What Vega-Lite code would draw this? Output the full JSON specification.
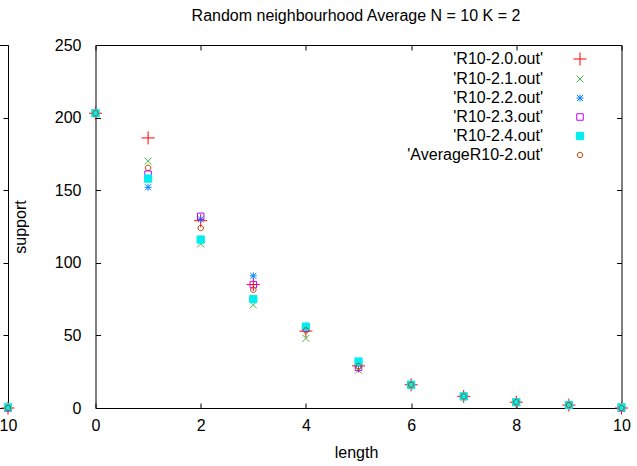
{
  "$schema": "https://vega.github.io/schema/vega-lite/v6.json",
  "autosize": {"type": "pad"},
  "padding": {"left": -93, "top": 7, "right": 0, "bottom": 0},
  "background": "white",
  "config": {
    "font": "Liberation Sans",
    "view": {"stroke": "black", "strokeWidth": 1},
    "axis": {
      "domain": false, "grid": false, "ticks": true, "tickSize": -5, "tickColor": "black", "tickWidth": 1,
      "labelFont": "Liberation Sans", "labelFontSize": 16, "labelColor": "black", "labelFlush": false, "labelOverlap": false,
      "titleFont": "Liberation Sans", "titleFontSize": 16, "titleFontWeight": "normal", "titleColor": "black"
    }
  },
  "datasets": {
    "pts": [
      {"series": "'R10-2.0.out'", "length": 0, "support": 203},
      {"series": "'R10-2.0.out'", "length": 1, "support": 186},
      {"series": "'R10-2.0.out'", "length": 2, "support": 129},
      {"series": "'R10-2.0.out'", "length": 3, "support": 85},
      {"series": "'R10-2.0.out'", "length": 4, "support": 53},
      {"series": "'R10-2.0.out'", "length": 5, "support": 29},
      {"series": "'R10-2.0.out'", "length": 6, "support": 16},
      {"series": "'R10-2.0.out'", "length": 7, "support": 8},
      {"series": "'R10-2.0.out'", "length": 8, "support": 4},
      {"series": "'R10-2.0.out'", "length": 9, "support": 2},
      {"series": "'R10-2.0.out'", "length": 10, "support": 0},
      {"series": "'R10-2.1.out'", "length": 0, "support": 203},
      {"series": "'R10-2.1.out'", "length": 1, "support": 170},
      {"series": "'R10-2.1.out'", "length": 2, "support": 113},
      {"series": "'R10-2.1.out'", "length": 3, "support": 71},
      {"series": "'R10-2.1.out'", "length": 4, "support": 48},
      {"series": "'R10-2.1.out'", "length": 5, "support": 26},
      {"series": "'R10-2.1.out'", "length": 6, "support": 16},
      {"series": "'R10-2.1.out'", "length": 7, "support": 8},
      {"series": "'R10-2.1.out'", "length": 8, "support": 4},
      {"series": "'R10-2.1.out'", "length": 9, "support": 2},
      {"series": "'R10-2.1.out'", "length": 10, "support": 0},
      {"series": "'R10-2.2.out'", "length": 0, "support": 203},
      {"series": "'R10-2.2.out'", "length": 1, "support": 152},
      {"series": "'R10-2.2.out'", "length": 2, "support": 130},
      {"series": "'R10-2.2.out'", "length": 3, "support": 91},
      {"series": "'R10-2.2.out'", "length": 4, "support": 56.5},
      {"series": "'R10-2.2.out'", "length": 5, "support": 30},
      {"series": "'R10-2.2.out'", "length": 6, "support": 16},
      {"series": "'R10-2.2.out'", "length": 7, "support": 8},
      {"series": "'R10-2.2.out'", "length": 8, "support": 4},
      {"series": "'R10-2.2.out'", "length": 9, "support": 2},
      {"series": "'R10-2.2.out'", "length": 10, "support": 0},
      {"series": "'R10-2.3.out'", "length": 0, "support": 203},
      {"series": "'R10-2.3.out'", "length": 1, "support": 161},
      {"series": "'R10-2.3.out'", "length": 2, "support": 132},
      {"series": "'R10-2.3.out'", "length": 3, "support": 85},
      {"series": "'R10-2.3.out'", "length": 4, "support": 55},
      {"series": "'R10-2.3.out'", "length": 5, "support": 28},
      {"series": "'R10-2.3.out'", "length": 6, "support": 16},
      {"series": "'R10-2.3.out'", "length": 7, "support": 8},
      {"series": "'R10-2.3.out'", "length": 8, "support": 4},
      {"series": "'R10-2.3.out'", "length": 9, "support": 2},
      {"series": "'R10-2.3.out'", "length": 10, "support": 0},
      {"series": "'R10-2.4.out'", "length": 0, "support": 203},
      {"series": "'R10-2.4.out'", "length": 1, "support": 158},
      {"series": "'R10-2.4.out'", "length": 2, "support": 116},
      {"series": "'R10-2.4.out'", "length": 3, "support": 75},
      {"series": "'R10-2.4.out'", "length": 4, "support": 56},
      {"series": "'R10-2.4.out'", "length": 5, "support": 32},
      {"series": "'R10-2.4.out'", "length": 6, "support": 16},
      {"series": "'R10-2.4.out'", "length": 7, "support": 8},
      {"series": "'R10-2.4.out'", "length": 8, "support": 4},
      {"series": "'R10-2.4.out'", "length": 9, "support": 2},
      {"series": "'R10-2.4.out'", "length": 10, "support": 0.5},
      {"series": "'AverageR10-2.out'", "length": 0, "support": 203},
      {"series": "'AverageR10-2.out'", "length": 1, "support": 165.4},
      {"series": "'AverageR10-2.out'", "length": 2, "support": 124},
      {"series": "'AverageR10-2.out'", "length": 3, "support": 81.4},
      {"series": "'AverageR10-2.out'", "length": 4, "support": 53.4},
      {"series": "'AverageR10-2.out'", "length": 5, "support": 28.8},
      {"series": "'AverageR10-2.out'", "length": 6, "support": 16},
      {"series": "'AverageR10-2.out'", "length": 7, "support": 8},
      {"series": "'AverageR10-2.out'", "length": 8, "support": 4},
      {"series": "'AverageR10-2.out'", "length": 9, "support": 2},
      {"series": "'AverageR10-2.out'", "length": 10, "support": 0}
    ]
  },
  "data": {"name": "pts"},
  "bounds": "flush",
  "spacing": 87.5,
  "resolve": {"scale": {"shape": "independent", "stroke": "independent", "fill": "independent", "x": "independent", "y": "independent"}},
  "hconcat": [
    {
      "width": 100,
      "height": 363,
      "transform": [{"filter": "datum.length == 10"}],
      "layer": [
        {
          "mark": {"type": "point", "filled": false, "opacity": 1, "strokeWidth": 1, "size": 169},
          "encoding": {
            "x": {"field": "length", "type": "quantitative", "scale": {"domain": [0, 10], "nice": false, "zero": false},
                  "axis": {"orient": "bottom", "values": [10], "title": null, "labelPadding": 14.5}},
            "y": {"field": "support", "type": "quantitative", "scale": {"domain": [0, 250], "nice": false}, "axis": null},
            "shape": {"field": "series", "type": "nominal", "legend": null,
              "scale": {"domain": ["'R10-2.0.out'", "'R10-2.1.out'", "'R10-2.2.out'", "'R10-2.3.out'", "'R10-2.4.out'", "'AverageR10-2.out'"],
                "range": ["M-1,0L1,0M0,-1L0,1", "M-0.54,-0.54L0.54,0.54M-0.54,0.54L0.54,-0.54", "M-0.54,0L0.54,0M0,-0.54L0,0.54M-0.46,-0.46L0.46,0.46M-0.46,0.46L0.46,-0.46", "M-0.5,-0.5L0.5,-0.5L0.5,0.5L-0.5,0.5Z", "M-0.56,-0.56L0.56,-0.56L0.56,0.56L-0.56,0.56Z", "M0.42,0A0.42,0.42 0 1,1 -0.42,0A0.42,0.42 0 1,1 0.42,0Z"]}},
            "stroke": {"field": "series", "type": "nominal", "legend": null,
              "scale": {"domain": ["'R10-2.0.out'", "'R10-2.1.out'", "'R10-2.2.out'", "'R10-2.3.out'", "'R10-2.4.out'", "'AverageR10-2.out'"],
                "range": ["#ff0000", "#40c040", "#0080ff", "#c000ff", "#00eeee", "#c04000"]}},
            "fill": {"field": "series", "type": "nominal", "legend": null,
              "scale": {"domain": ["'R10-2.0.out'", "'R10-2.1.out'", "'R10-2.2.out'", "'R10-2.3.out'", "'R10-2.4.out'", "'AverageR10-2.out'"],
                "range": ["transparent", "transparent", "transparent", "transparent", "#00eeee", "transparent"]}}
          }
        },
        {
          "mark": {"type": "point", "opacity": 0},
          "encoding": {
            "x": {"field": "length", "type": "quantitative", "scale": {"domain": [0, 10], "nice": false, "zero": false}, "axis": null},
            "y": {"field": "support", "type": "quantitative", "scale": {"domain": [0, 250], "nice": false},
                  "axis": {"orient": "right", "labels": false, "title": null, "values": [0, 50, 100, 150, 200, 250]}}
          }
        }
      ],
      "resolve": {"axis": {"x": "independent", "y": "independent"}}
    },
    {
      "width": 526,
      "height": 363,
      "title": {"text": "Random neighbourhood Average N = 10 K = 2", "anchor": "middle", "fontSize": 16, "fontWeight": "normal", "font": "Liberation Sans", "color": "black", "baseline": "alphabetic", "offset": 0.5, "dx": -2.5},
      "layer": [
        {
          "mark": {"type": "point", "filled": false, "opacity": 1, "strokeWidth": 1, "size": 169},
          "encoding": {
            "x": {"field": "length", "type": "quantitative", "scale": {"domain": [0, 10], "nice": false, "zero": false},
                  "axis": {"orient": "bottom", "values": [0, 2, 4, 6, 8, 10], "title": "length", "labelPadding": 14.5, "titleY": 49, "titleX": 260.5, "titleAlign": "center", "titleBaseline": "alphabetic"}},
            "y": {"field": "support", "type": "quantitative", "scale": {"domain": [0, 250], "nice": false},
                  "axis": {"orient": "left", "values": [0, 50, 100, 150, 200, 250], "title": "support", "labelPadding": 19.5, "titleX": -70, "titleBaseline": "alphabetic"}},
            "shape": {"field": "series", "type": "nominal",
              "scale": {"domain": ["'R10-2.0.out'", "'R10-2.1.out'", "'R10-2.2.out'", "'R10-2.3.out'", "'R10-2.4.out'", "'AverageR10-2.out'"],
                "range": ["M-1,0L1,0M0,-1L0,1", "M-0.54,-0.54L0.54,0.54M-0.54,0.54L0.54,-0.54", "M-0.54,0L0.54,0M0,-0.54L0,0.54M-0.46,-0.46L0.46,0.46M-0.46,0.46L0.46,-0.46", "M-0.5,-0.5L0.5,-0.5L0.5,0.5L-0.5,0.5Z", "M-0.56,-0.56L0.56,-0.56L0.56,0.56L-0.56,0.56Z", "M0.42,0A0.42,0.42 0 1,1 -0.42,0A0.42,0.42 0 1,1 0.42,0Z"]},
              "legend": {"title": null, "orient": "none", "legendX": 476.5, "legendY": 6, "padding": 0,
                "labelAlign": "right", "labelOffset": -45, "labelFontSize": 16, "labelFont": "Liberation Sans", "labelColor": "black", "labelLimit": 400,
                "symbolSize": 169, "symbolStrokeWidth": 1, "symbolOpacity": 1, "rowPadding": 3}},
            "stroke": {"field": "series", "type": "nominal",
              "scale": {"domain": ["'R10-2.0.out'", "'R10-2.1.out'", "'R10-2.2.out'", "'R10-2.3.out'", "'R10-2.4.out'", "'AverageR10-2.out'"],
                "range": ["#ff0000", "#40c040", "#0080ff", "#c000ff", "#00eeee", "#c04000"]}},
            "fill": {"field": "series", "type": "nominal",
              "scale": {"domain": ["'R10-2.0.out'", "'R10-2.1.out'", "'R10-2.2.out'", "'R10-2.3.out'", "'R10-2.4.out'", "'AverageR10-2.out'"],
                "range": ["transparent", "transparent", "transparent", "transparent", "#00eeee", "transparent"]}}
          }
        },
        {
          "mark": {"type": "point", "opacity": 0},
          "encoding": {
            "x": {"field": "length", "type": "quantitative", "scale": {"domain": [0, 10], "nice": false, "zero": false},
                  "axis": {"orient": "top", "labels": false, "title": null, "values": [0, 2, 4, 6, 8, 10]}},
            "y": {"field": "support", "type": "quantitative", "scale": {"domain": [0, 250], "nice": false},
                  "axis": {"orient": "right", "labels": false, "title": null, "values": [0, 50, 100, 150, 200, 250]}}
          }
        }
      ],
      "resolve": {"axis": {"x": "independent", "y": "independent"}}
    }
  ]
}
